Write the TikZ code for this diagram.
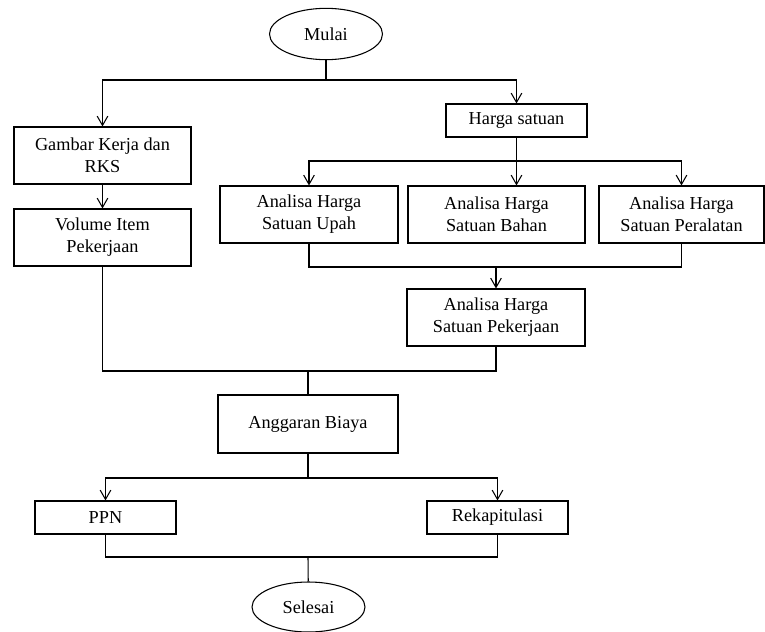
\documentclass[tikz,border=0pt]{standalone}
\usepackage{fontspec}
\setmainfont{Liberation Serif}
\newfontfamily\boxfont{Liberation Serif}
\usetikzlibrary{shapes.geometric,arrows.meta}

\begin{document}
\begin{tikzpicture}[x=0.75pt,y=-0.75pt,line width=0.8pt,>={Straight Barb[length=7pt,width=8pt]}]
  \tikzstyle{procbox}=[rectangle,draw=black,align=center,inner sep=0pt,minimum height=42.75pt,font=\boxfont\fontsize{13.7}{16.5}\selectfont]
  \tikzstyle{termnode}=[ellipse,draw=black,inner sep=0pt,minimum width=84.75pt,minimum height=38.5pt,font=\boxfont\fontsize{13.7}{16.5}\selectfont]
  \useasboundingbox (0,0) rectangle (765,632);

  \node[termnode] (mulai) at (326,34) {Mulai};

  % left column
  \node[procbox, minimum width=132.75pt] (gambar) at (102.5,155.5) {Gambar Kerja dan\\RKS};
  \node[procbox, minimum width=132.75pt] (volume) at (102.5,237.5) {Volume Item\\Pekerjaan};

  % right column
  \node[procbox, minimum width=105.75pt, minimum height=24.75pt] (harga) at (516.5,120.5) {Harga satuan};
  \node[procbox, minimum width=133.5pt] (upah) at (309,214.5) {Analisa Harga\\Satuan Upah};
  \node[procbox, minimum width=132.75pt] (bahan) at (496.5,214.5) {Analisa Harga\\Satuan Bahan};
  \node[procbox, minimum width=123.75pt] (alat) at (681.5,214.5) {Analisa Harga\\Satuan Peralatan};
  \node[procbox, minimum width=133.5pt] (pekerjaan) at (496,317.5) {Analisa Harga\\Satuan Pekerjaan};

  % lower part
  \node[procbox, minimum width=135pt, minimum height=43.5pt] (anggaran) at (308,424) {Anggaran Biaya};
  \node[procbox, minimum width=105.75pt, minimum height=24.75pt] (ppn) at (105.5,517.5) {PPN};
  \node[procbox, minimum width=105.75pt, minimum height=24.75pt] (rekap) at (497.5,517.5) {Rekapitulasi};
  \node[termnode, minimum height=37.5pt] (selesai) at (308.5,607) {Selesai};

  % edges
  \coordinate (split1) at (326,80);
  \draw (mulai) -- (split1);
  \draw[->] (split1) -| (gambar);
  \draw[->] (split1) -| (harga);
  \draw[->] (gambar) -- (volume);

  \coordinate (split2) at (harga.south |- 0,161);
  \draw (harga) -- (split2);
  \draw[->] (split2) -| (upah);
  \draw[->] (split2) -- (split2 |- bahan.north);
  \draw[->] (split2) -| (alat);

  \coordinate (join1) at (pekerjaan.north |- 0,267);
  \draw (upah) |- (join1) -| (alat);
  \draw[->] (join1) -- (pekerjaan);

  \coordinate (join2) at (308,371);
  \draw (volume) |- (join2) -| (pekerjaan);
  \draw (join2) -- (anggaran);

  \coordinate (split3) at (308,478);
  \draw (anggaran) -- (split3);
  \draw[->] (split3) -| (ppn);
  \draw[->] (split3) -| (rekap);

  \coordinate (join3) at (308,557);
  \draw (ppn) |- (join3) -| (rekap);
  \draw (join3) -- (selesai);

\end{tikzpicture}
\end{document}
